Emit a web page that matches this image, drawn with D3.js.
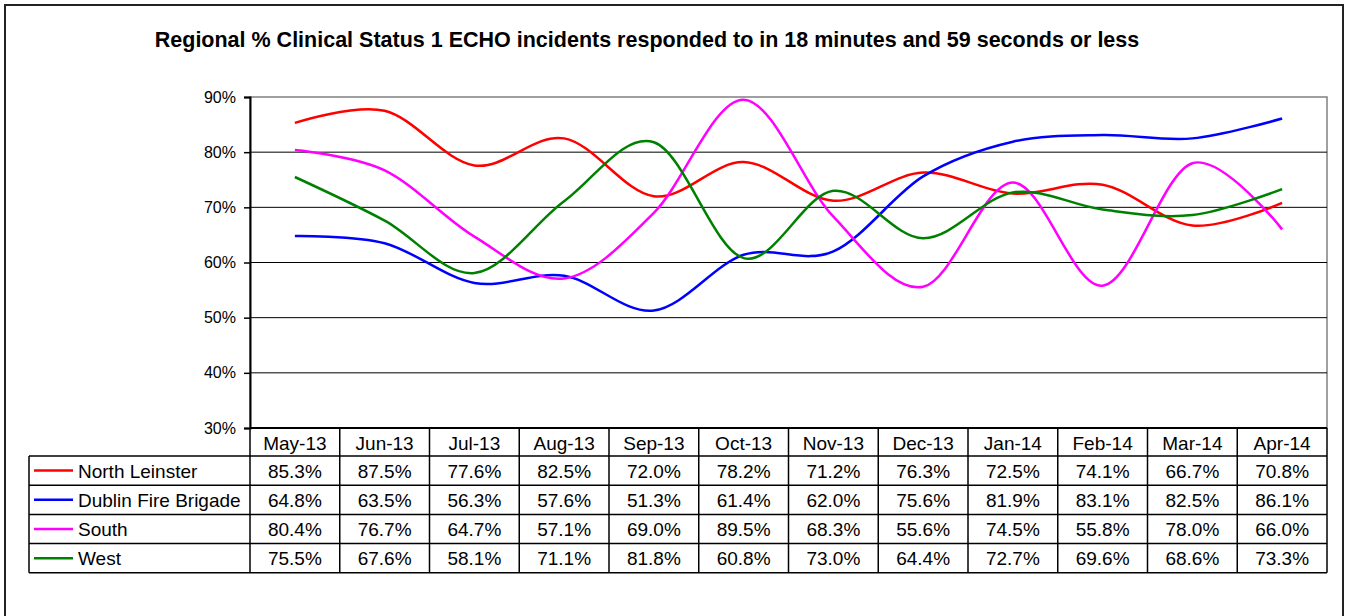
<!DOCTYPE html>
<html>
<head>
<meta charset="utf-8">
<script src="https://cdn.jsdelivr.net/npm/d3@7"></script>
<style>
  body { margin: 0; background: #fff; }
  text { font-family: "Liberation Sans", Arial, sans-serif; }
</style>
</head>
<body>
<div class="canvas"></div>
<script>
const months = ['May-13', 'Jun-13', 'Jul-13', 'Aug-13', 'Sep-13', 'Oct-13', 'Nov-13', 'Dec-13', 'Jan-14', 'Feb-14', 'Mar-14', 'Apr-14'];
const northLeinster = [85.3, 87.5, 77.6, 82.5, 72.0, 78.2, 71.2, 76.3, 72.5, 74.1, 66.7, 70.8];
const dublinFire = [64.8, 63.5, 56.3, 57.6, 51.3, 61.4, 62.0, 75.6, 81.9, 83.1, 82.5, 86.1];
const south = [80.4, 76.7, 64.7, 57.1, 69.0, 89.5, 68.3, 55.6, 74.5, 55.8, 78.0, 66.0];
const west = [75.5, 67.6, 58.1, 71.1, 81.8, 60.8, 73.0, 64.4, 72.7, 69.6, 68.6, 73.3];
const yTicks = [30, 40, 50, 60, 70, 80, 90];

const series = [
  { name: 'North Leinster', values: northLeinster, color: '#ff0000' },
  { name: 'Dublin Fire Brigade', values: dublinFire, color: '#0000ff' },
  { name: 'South', values: south, color: '#ff00ff' },
  { name: 'West', values: west, color: '#008000' }
];

const svg = d3.select('.canvas')
  .append('svg')
  .attr('width', 1351)
  .attr('height', 616);

// outer frame
svg.append('rect')
  .attr('x', 5).attr('y', 5)
  .attr('width', 1338).attr('height', 640)
  .attr('fill', 'none')
  .attr('stroke', '#222')
  .attr('stroke-width', 2);

svg.append('text')
  .attr('x', 647).attr('y', 47)
  .attr('text-anchor', 'middle')
  .attr('font-size', 21.5)
  .attr('font-weight', 'bold')
  .text('Regional % Clinical Status 1 ECHO incidents responded to in 18 minutes and 59 seconds or less');

const plotL = 250, plotR = 1327, plotT = 97, plotB = 428;

const x = d3.scaleBand().domain(months).range([plotL, plotR]);
const y = d3.scaleLinear().domain([30, 90]).range([plotB, plotT]);

// plot area border
svg.append('rect')
  .attr('x', plotL).attr('y', plotT)
  .attr('width', plotR - plotL).attr('height', plotB - plotT)
  .attr('fill', 'none')
  .attr('stroke', '#808080')
  .attr('stroke-width', 1.5);

// gridlines
svg.append('g')
  .selectAll('line')
  .data(yTicks.filter(d => d > 30 && d < 90))
  .join('line')
  .attr('x1', plotL).attr('x2', plotR)
  .attr('y1', d => y(d)).attr('y2', d => y(d))
  .attr('stroke', '#000')
  .attr('stroke-width', 1);

// y axis
const yAxis = svg.append('g')
  .attr('transform', `translate(${plotL},0)`)
  .call(d3.axisLeft(y).tickValues(yTicks).tickFormat(d => d + '%').tickSize(6).tickPadding(8));
yAxis.select('.domain').attr('stroke', '#000').attr('stroke-width', 2);
yAxis.selectAll('.tick line').attr('stroke', '#000').attr('stroke-width', 1.5);
yAxis.selectAll('.tick text')
  .attr('font-size', 16)
  .attr('font-family', '"Liberation Sans", Arial, sans-serif')
  .attr('fill', '#000');

// bottom axis line
svg.append('line')
  .attr('x1', plotL).attr('x2', plotR)
  .attr('y1', plotB).attr('y2', plotB)
  .attr('stroke', '#000')
  .attr('stroke-width', 2);

// smoothed lines
const line = d3.line()
  .x((d, i) => x(months[i]) + x.bandwidth() / 2)
  .y(d => y(d))
  .curve(d3.curveCardinal.tension(0));

svg.append('g')
  .selectAll('path')
  .data(series)
  .join('path')
  .attr('fill', 'none')
  .attr('stroke', d => d.color)
  .attr('stroke-width', 2.5)
  .attr('d', d => line(d.values));

// data table
const tableLeft = 29;
const headerBottom = 456;
const rowH = 29.2;
const tableBottom = headerBottom + rowH * series.length;
const tbl = svg.append('g');

// column separators
tbl.selectAll('line.col')
  .data(d3.range(months.length + 1))
  .join('line')
  .attr('class', 'col')
  .attr('x1', i => plotL + i * x.bandwidth())
  .attr('x2', i => plotL + i * x.bandwidth())
  .attr('y1', plotB)
  .attr('y2', tableBottom)
  .attr('stroke', '#000')
  .attr('stroke-width', 1.5);

tbl.append('line')
  .attr('x1', tableLeft).attr('x2', tableLeft)
  .attr('y1', headerBottom).attr('y2', tableBottom)
  .attr('stroke', '#000').attr('stroke-width', 1.5);

tbl.selectAll('line.row')
  .data(d3.range(series.length + 1))
  .join('line')
  .attr('class', 'row')
  .attr('x1', tableLeft).attr('x2', plotR)
  .attr('y1', i => headerBottom + i * rowH)
  .attr('y2', i => headerBottom + i * rowH)
  .attr('stroke', '#000')
  .attr('stroke-width', 1.5);

tbl.selectAll('text.month')
  .data(months)
  .join('text')
  .attr('class', 'month')
  .attr('x', d => x(d) + x.bandwidth() / 2)
  .attr('y', 449.5)
  .attr('text-anchor', 'middle')
  .attr('font-size', 19)
  .text(d => d);

const rows = tbl.selectAll('g.srow')
  .data(series)
  .join('g')
  .attr('class', 'srow')
  .attr('transform', (d, i) => `translate(0,${headerBottom + i * rowH})`);

rows.append('line')
  .attr('x1', 34).attr('x2', 73)
  .attr('y1', rowH / 2).attr('y2', rowH / 2)
  .attr('stroke', d => d.color)
  .attr('stroke-width', 2.5);

rows.append('text')
  .attr('x', 78).attr('y', 21.5)
  .attr('font-size', 19)
  .text(d => d.name);

rows.selectAll('text.val')
  .data(d => d.values)
  .join('text')
  .attr('class', 'val')
  .attr('x', (d, i) => x(months[i]) + x.bandwidth() / 2)
  .attr('y', 21.5)
  .attr('text-anchor', 'middle')
  .attr('font-size', 19)
  .text(d => d.toFixed(1) + '%');
</script>
</body>
</html>
